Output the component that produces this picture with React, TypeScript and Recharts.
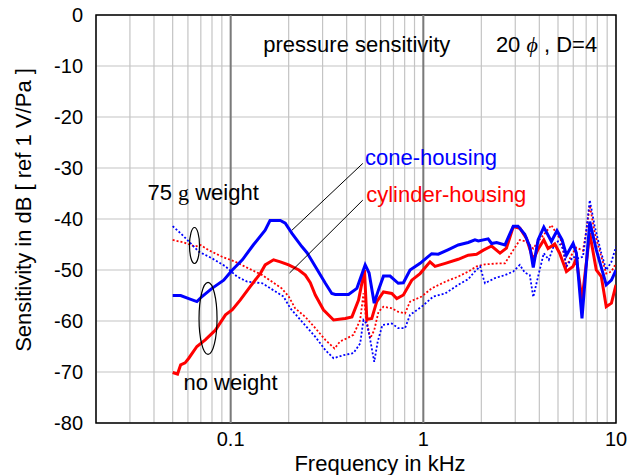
import {
  LineChart,
  Line,
  XAxis,
  YAxis,
  CartesianGrid,
  ReferenceLine,
  ReferenceArea,
  ReferenceDot,
} from 'recharts';

const FONT = 'Arial, "Liberation Sans", Helvetica, sans-serif';
const SERIF = '"Liberation Serif", "Times New Roman", serif';

// cone-housing, no weight (blue solid)
const coneFreq = [0.05, 0.055, 0.0606, 0.0668, 0.071, 0.08, 0.092, 0.102, 0.115, 0.131, 0.151, 0.16, 0.181, 0.192, 0.208, 0.234, 0.249, 0.275, 0.31, 0.335, 0.349, 0.409, 0.452, 0.499, 0.523, 0.556, 0.585, 0.621, 0.672, 0.741, 0.788, 0.853, 0.962, 1.105, 1.196, 1.35, 1.517, 1.71, 1.853, 1.93, 2.17, 2.26, 2.4, 2.65, 2.93, 3.1, 3.36, 3.57, 3.72, 3.94, 4.22, 4.62, 4.94, 5.25, 5.53, 5.99, 6.23, 6.66, 7.31, 7.9, 8.9, 9.47, 10];
const coneDb = [-55, -55, -55.6, -56.2, -55.2, -53.6, -52, -50, -48, -45.1, -42.2, -40.3, -40.3, -40.8, -42.8, -45.4, -46.6, -49.3, -52.6, -54.6, -54.8, -54.8, -53.6, -49, -50.6, -56.5, -53.9, -51.2, -51.2, -52.6, -52.5, -50, -48.7, -46.8, -46.9, -46, -45.1, -44.6, -44.1, -44.3, -43.9, -44.8, -44.6, -45.1, -41.4, -41.4, -43, -45.4, -49.5, -44.1, -41.6, -44.4, -42.3, -44.1, -47.1, -44.8, -46.7, -59.5, -40.5, -46, -52.9, -52, -50];

// cylinder-housing, no weight (red solid)
const cylFreq = [0.05, 0.053, 0.055, 0.058, 0.0606, 0.0668, 0.0738, 0.0833, 0.094, 0.102, 0.112, 0.126, 0.143, 0.151, 0.167, 0.181, 0.2, 0.226, 0.244, 0.259, 0.275, 0.303, 0.342, 0.393, 0.426, 0.461, 0.495, 0.509, 0.54, 0.573, 0.621, 0.686, 0.728, 0.788, 0.871, 0.962, 1.083, 1.15, 1.3, 1.517, 1.71, 1.89, 2.05, 2.26, 2.5, 2.7, 2.93, 3.17, 3.43, 3.72, 3.94, 4.22, 4.44, 4.81, 5.1, 5.53, 5.99, 6.23, 6.66, 7.31, 7.9, 8.39, 8.9, 9.47, 10];
const cylDb = [-70.1, -70.4, -68.6, -68.2, -67.3, -65, -63.7, -61.8, -58.8, -57.8, -55.9, -53.3, -50.6, -49, -48, -48.4, -49, -50, -51, -52.5, -54.9, -57.8, -59.8, -59.5, -59.2, -55.9, -50, -59.7, -59.5, -56.2, -54.3, -54.6, -55.6, -54.9, -52, -50.7, -48.4, -49.3, -48.7, -47.9, -47.1, -46.9, -46.1, -45.3, -46.7, -45.7, -41.5, -41.8, -43.8, -48, -45.9, -44.1, -45.8, -44.9, -46.7, -50.3, -49.3, -47.7, -55.9, -42.8, -50, -51.3, -57.2, -56.5, -52.9];

// cone-housing, 75 g weight (blue dotted)
const coneWFreq = [0.05, 0.055, 0.0606, 0.0683, 0.08, 0.094, 0.108, 0.122, 0.146, 0.164, 0.188, 0.204, 0.234, 0.275, 0.31, 0.342, 0.385, 0.434, 0.47, 0.489, 0.509, 0.53, 0.556, 0.58, 0.613, 0.686, 0.741, 0.804, 0.853, 0.98, 1.127, 1.3, 1.517, 1.71, 1.85, 1.97, 2.05, 2.09, 2.35, 2.65, 2.93, 3.17, 3.36, 3.57, 3.72, 3.94, 4.22, 4.48, 4.77, 5.0, 5.31, 5.53, 5.99, 6.35, 6.74, 7.02, 7.31, 7.76, 8.39, 8.9, 9.47, 10];
const coneWDb = [-41.4, -42.8, -44.4, -46.4, -47.7, -49.3, -51.3, -52.3, -52.6, -53.8, -55.2, -57.5, -60.1, -63.1, -65.7, -67.3, -66.7, -66.3, -64.4, -59.8, -60.5, -63.7, -68, -64, -60.8, -60.5, -61.4, -61.4, -58.8, -57.2, -55.2, -54.6, -52.9, -51.8, -50.3, -49.3, -51.6, -52.6, -51.6, -51, -50.3, -49, -50.5, -51, -55.3, -51.3, -46.7, -48, -45.1, -44.4, -45.8, -49.3, -47.4, -47.7, -47.4, -42.2, -36.3, -41.5, -46.7, -50, -48.4, -45.4];

// cylinder-housing, 75 g weight (red dotted)
const cylWFreq = [0.05, 0.057, 0.0656, 0.0697, 0.0769, 0.0902, 0.106, 0.124, 0.146, 0.164, 0.184, 0.2, 0.216, 0.244, 0.275, 0.31, 0.346, 0.37, 0.401, 0.434, 0.47, 0.489, 0.503, 0.53, 0.556, 0.585, 0.621, 0.686, 0.741, 0.804, 0.853, 0.98, 1.105, 1.3, 1.517, 1.71, 1.89, 2.09, 2.45, 2.65, 2.93, 3.17, 3.43, 3.72, 3.94, 4.28, 4.62, 4.9, 5.17, 5.53, 5.87, 6.23, 6.74, 7.02, 7.31, 7.76, 8.39, 8.9, 9.47, 10];
const cylWDb = [-44.1, -44.6, -45.4, -45.1, -46.1, -47.4, -48.4, -49.7, -51, -52.3, -53.6, -55.2, -57.5, -59.2, -61.4, -63.7, -65.4, -64, -63.4, -62.7, -59.8, -54.6, -59.2, -63.4, -61.8, -58.2, -57.2, -57.5, -58.2, -58.5, -56.2, -55.2, -53.6, -52.3, -51.3, -50.3, -49.3, -48.9, -48.7, -48.7, -46.1, -44.1, -44.4, -45.8, -44.4, -42.8, -41.2, -42.8, -44.1, -49.3, -47.1, -45.6, -46.2, -42.2, -37.3, -42.8, -47.4, -50.7, -50.3, -48.7];

const xTicks = [0.02, 0.03, 0.04, 0.05, 0.06, 0.07, 0.08, 0.09, 0.1, 0.2, 0.3, 0.4, 0.5, 0.6, 0.7, 0.8, 0.9, 1, 2, 3, 4, 5, 6, 7, 8, 9, 10];
const xLabels = [0.1, 1, 10];
const yTicks = [-80, -70, -60, -50, -40, -30, -20, -10, 0];

const toPoints = (f: number[], v: number[]) => f.map((x, i) => ({ f: x, db: v[i] }));

const textAt = (content: any, color = '#000') => (p: any) => (
  <text x={p.cx} y={p.cy} fill={color} fontSize={22} fontFamily={FONT}>
    {content}
  </text>
);

const ellipseAt = (rx: number, ry: number) => (p: any) => (
  <ellipse cx={p.cx} cy={p.cy} rx={rx} ry={ry} fill="none" stroke="#000" strokeWidth={1.2} />
);

const XTitle = ({ viewBox }: any) => (
  <text x={viewBox.x + viewBox.width / 2 + 24} y={viewBox.y + 48} textAnchor="middle" fontSize={22} fontFamily={FONT} fill="#000">
    Frequency in kHz
  </text>
);

const YTitle = () => (
  <text x={23} y={210} transform="rotate(-90 23 210)" textAnchor="middle" dy="0.35em" fontSize={22} fontFamily={FONT} fill="#000">
    Sensitivity in dB [ ref 1 V/Pa ]
  </text>
);

export default function App() {
  return (
    <div style={{ position: 'absolute', left: 0, top: 0, width: 644, height: 475, background: '#fff' }}>
      <LineChart width={644} height={475} margin={{ top: 15, right: 28, bottom: 0, left: 0 }}>
        <CartesianGrid stroke="#c4c4c4" strokeWidth={1.2} />
        <XAxis
          dataKey="f"
          type="number"
          scale="log"
          domain={[0.02, 10]}
          ticks={xTicks}
          allowDataOverflow
          height={52}
          tickLine={false}
          axisLine={false}
          tickSize={0}
          tickMargin={9}
          tick={{ fontSize: 20, fill: '#000', fontFamily: FONT }}
          tickFormatter={(v: number) => (xLabels.includes(v) ? String(v) : '')}
          interval={0}
          label={<XTitle />}
        />
        <YAxis
          type="number"
          domain={[-80, 0]}
          ticks={yTicks}
          width={96}
          tickLine={false}
          axisLine={false}
          tickSize={0}
          tickMargin={13}
          interval={0}
          tick={{ fontSize: 20, fill: '#000', fontFamily: FONT }}
          label={<YTitle />}
        />
        <ReferenceLine x={0.1} stroke="#7a7a7a" strokeWidth={2} />
        <ReferenceLine x={1} stroke="#7a7a7a" strokeWidth={2} />
        <ReferenceArea x1={0.02} x2={10} y1={-80} y2={0} fill="none" stroke="#000" strokeWidth={1.5} />

        <Line data={toPoints(cylWFreq, cylWDb)} dataKey="db" stroke="#ff0000" strokeWidth={1.8} strokeDasharray="2 2" dot={false} isAnimationActive={false} />
        <Line data={toPoints(coneWFreq, coneWDb)} dataKey="db" stroke="#0000ff" strokeWidth={1.8} strokeDasharray="2 2" dot={false} isAnimationActive={false} />
        <Line data={toPoints(cylFreq, cylDb)} dataKey="db" stroke="#ff0000" strokeWidth={3} dot={false} isAnimationActive={false} />
        <Line data={toPoints(coneFreq, coneDb)} dataKey="db" stroke="#0000ff" strokeWidth={3} dot={false} isAnimationActive={false} />

        <ReferenceLine segment={[{ x: 0.485, y: -29.1 }, { x: 0.208, y: -42.2 }]} stroke="#000" strokeWidth={1} />
        <ReferenceLine segment={[{ x: 0.485, y: -36.3 }, { x: 0.202, y: -50.6 }]} stroke="#000" strokeWidth={1} />

        <ReferenceDot x={0.0649} y={-45.2} r={0} shape={ellipseAt(5, 18)} />
        <ReferenceDot x={0.0763} y={-59.5} r={0} shape={ellipseAt(9, 36)} />

        <ReferenceDot x={0.1477} y={-7.25} r={0} shape={textAt('pressure sensitivity')} />
        <ReferenceDot
          x={2.38}
          y={-7.25}
          r={0}
          shape={textAt(
            <>
              20 <tspan fontStyle="italic" fontFamily={SERIF}>ϕ</tspan> , D=4
            </>
          )}
        />
        <ReferenceDot x={0.498} y={-29.4} r={0} shape={textAt('cone-housing', '#0000ff')} />
        <ReferenceDot x={0.505} y={-36.7} r={0} shape={textAt('cylinder-housing', '#ff0000')} />
        <ReferenceDot
          x={0.037}
          y={-36.3}
          r={0}
          shape={textAt(
            <>
              75 <tspan fontFamily={SERIF}>g</tspan> weight
            </>
          )}
        />
        <ReferenceDot x={0.0569} y={-73.5} r={0} shape={textAt('no weight')} />
      </LineChart>
    </div>
  );
}
